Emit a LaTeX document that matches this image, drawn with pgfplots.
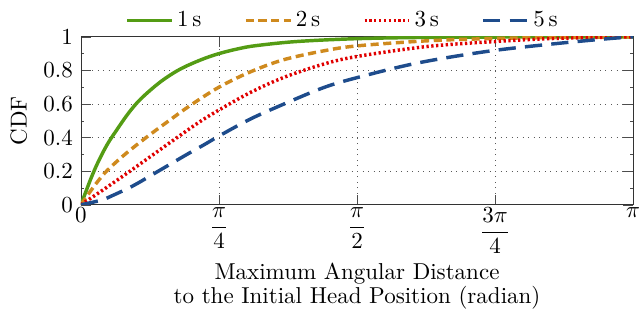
\documentclass[border=0pt]{standalone}
\usepackage{pgfplots}
\pgfplotsset{compat=1.18}
\definecolor{cgreen}{RGB}{84,156,20}
\definecolor{corange}{RGB}{207,138,30}
\definecolor{cred}{RGB}{224,0,0}
\definecolor{cblue}{RGB}{30,76,140}
\begin{document}
\begin{tikzpicture}
\begin{axis}[
  scale only axis,
  width=240pt, height=73pt,
  xmin=0, xmax=3.14159, ymin=0, ymax=1,
  xtick={0,0.785398,1.570796,2.356194,3.14159},
  xticklabels={$0$,$\displaystyle\frac{\pi}{4}$,$\displaystyle\frac{\pi}{2}$,$\displaystyle\frac{3\pi}{4}$,$\pi$},
  xticklabel style={anchor=north, inner sep=1pt},
  ytick={0,0.2,0.4,0.6,0.8,1},
  yticklabels={0,0.2,0.4,0.6,0.8,1},
  minor x tick num=19, minor y tick num=1,
  grid=major,
  major grid style={dotted, gray!70!black},
  tick style={gray!60!black},
  minor tick length=1.5pt,
  tick align=inside,
  axis line style={gray!40!black},
  xlabel={Maximum Angular Distance\\to the Initial Head Position (radian)},
  every axis x label/.style={at={(axis description cs:0.5,0)}, anchor=center, yshift=-35.5pt, align=center, font=\fontsize{10}{10.6}\selectfont},
  ylabel={CDF},
  every axis y label/.style={at={(axis description cs:-0.1125,0.5)}, rotate=90, anchor=center},
  legend style={at={(axis description cs:0.475,1.096)}, anchor=center, draw=none, fill=none, inner sep=0pt, legend columns=4,
    nodes={inner sep=1.5pt},
    /tikz/every even column/.append style={column sep=17pt}},
  legend image code/.code={\draw[#1] (0pt,0pt) -- (19.5pt,0pt);},
  legend cell align=left,
  every axis plot/.append style={smooth, tension=0.55},
]
\addplot[cgreen, line width=1.5pt] coordinates {
(0,0) (0.025,0.07) (0.06,0.165) (0.1,0.26) (0.15,0.36) (0.2,0.44) (0.27,0.545)
(0.34,0.63) (0.45,0.73) (0.56,0.805) (0.68,0.862) (0.785,0.9) (0.9,0.93)
(1.0,0.948) (1.228,0.972) (1.571,0.989) (2.0,0.997) (2.5,0.999) (3.14159,1)};
\addlegendentry{1\,s}
\addplot[corange, line width=1.5pt, dash pattern=on 3.5pt off 2pt] coordinates {
(0,0) (0.05,0.075) (0.1,0.145) (0.15,0.205) (0.25,0.30) (0.383,0.41) (0.5,0.5)
(0.62,0.59) (0.785,0.70) (0.961,0.79) (1.151,0.863) (1.379,0.916) (1.571,0.946)
(1.967,0.976) (2.356,0.99) (2.8,0.997) (3.14159,1)};
\addlegendentry{2\,s}
\addplot[cred, line width=1.5pt, dash pattern=on 1pt off 1.1pt] coordinates {
(0,0) (0.05,0.035) (0.108,0.076) (0.19,0.135) (0.279,0.2) (0.41,0.298) (0.544,0.398)
(0.677,0.495) (0.785,0.564) (0.961,0.667) (1.151,0.757) (1.379,0.837) (1.571,0.883)
(1.967,0.942) (2.356,0.972) (2.688,0.99) (3.14159,1)};
\addlegendentry{3\,s}
\addplot[cblue, line width=1.5pt, dash pattern=on 7.5pt off 4pt] coordinates {
(0,0) (0.114,0.027) (0.184,0.057) (0.3,0.115) (0.44,0.2) (0.6,0.298) (0.705,0.36)
(0.785,0.409) (0.961,0.509) (1.151,0.598) (1.379,0.697) (1.571,0.757) (1.91,0.843)
(2.31,0.913) (2.688,0.958) (2.99,0.988) (3.14159,1)};
\addlegendentry{5\,s}
\end{axis}
\path (current axis.south west) ++(-35.2pt,-45.6pt) coordinate (bbl);
\path (current axis.north east) ++(3pt,16pt) coordinate (btr);
\pgfresetboundingbox
\useasboundingbox (bbl) rectangle (btr);
\end{tikzpicture}
\end{document}
